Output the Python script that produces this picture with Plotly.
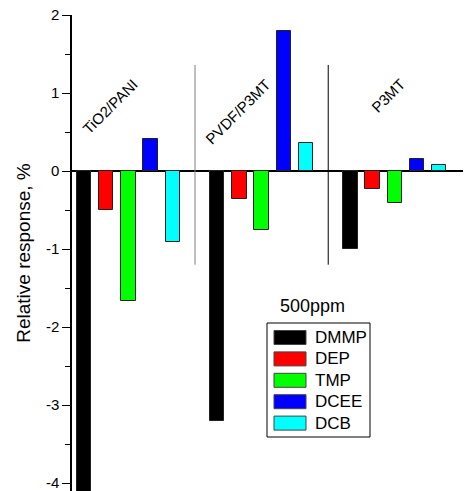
import plotly.graph_objects as go

# ---- data ----
groups = ["TiO2/PANI", "PVDF/P3MT", "P3MT"]
series = ["DMMP", "DEP", "TMP", "DCEE", "DCB"]
DMMP = [-4.15, -3.20, -1.00]
DEP = [-0.50, -0.36, -0.23]
TMP = [-1.66, -0.75, -0.41]
DCEE = [0.41, 1.80, 0.16]
DCB = [-0.91, 0.36, 0.08]
values = [DMMP, DEP, TMP, DCEE, DCB]
y_tickvals = [-4, -3, -2, -1, 0, 1, 2]
y_ticktext = ["-4", "-3", "-2", "-1", "0", "1", "2"]
legend_title = "500ppm"
y_title = "Relative response, %"

# ---- styles ----
colors = ["#000000", "#FF0000", "#00FF00", "#0000FF", "#00FFFF"]
FONT = "Arial, Liberation Sans, sans-serif"
group_step = 6  # bar slots per group (5 bars + gap)

W, H = 468, 491
ML, MR, MT, MB = 72, 5, 15, 0

fig = go.Figure()
for i, (name, vals) in enumerate(zip(series, values)):
    xs = [g * group_step + i for g in range(len(groups))]
    fig.add_trace(go.Bar(
        x=xs, y=vals, name=name, width=0.65,
        marker=dict(color=colors[i], line=dict(color="#222222", width=1)),
        showlegend=False,
    ))

# group separators
sep_colors = ["#808080", "#000000"]
for g in range(1, len(groups)):
    xsep = g * group_step - 1
    fig.add_shape(type="line", xref="x", yref="y", x0=xsep, x1=xsep,
                  y0=-1.2, y1=1.36, line=dict(color=sep_colors[g - 1], width=1))

# group labels (rotated)
label_offsets = [(1.17, 0.83), (0.94, 0.76), (1.70, 0.97)]
for g, name in enumerate(groups):
    dx, yy = label_offsets[g]
    fig.add_annotation(x=g * group_step + dx, y=yy, xref="x", yref="y",
                       text=name, showarrow=False, textangle=-45,
                       xanchor="center", yanchor="middle",
                       font=dict(family=FONT, size=15, color="black"))

# manual legend in pixel -> paper coordinates
pw = W - ML - MR
ph = H - MT - MB
def px(xp):
    return (xp - ML) / pw
def py(yp):
    return (H - MB - yp) / ph

fig.add_shape(type="rect", xref="paper", yref="paper",
              x0=px(267), x1=px(370), y0=py(437), y1=py(323),
              line=dict(color="black", width=1), fillcolor="white", layer="above")
row0, drow = 337.5, 21.4
for i, name in enumerate(series):
    yc = row0 + i * drow
    fig.add_shape(type="rect", xref="paper", yref="paper",
                  x0=px(274), x1=px(306), y0=py(yc + 7), y1=py(yc - 7),
                  line=dict(color="#444444", width=1), fillcolor=colors[i],
                  layer="above")
    fig.add_annotation(x=px(313), y=py(yc), xref="paper", yref="paper",
                       text=name, showarrow=False, xanchor="left",
                       yanchor="middle",
                       font=dict(family=FONT, size=17, color="black"))
fig.add_annotation(x=px(312), y=py(306), xref="paper", yref="paper",
                   text=legend_title, showarrow=False, xanchor="center",
                   yanchor="middle",
                   font=dict(family=FONT, size=18, color="black"))

fig.update_layout(
    width=W, height=H,
    margin=dict(l=ML, r=MR, t=MT, b=MB, pad=0),
    paper_bgcolor="white", plot_bgcolor="white",
    bargap=0,
    font=dict(family=FONT, color="black"),
    xaxis=dict(range=[-0.54, 17.07], showticklabels=False, showgrid=False,
               zeroline=False, showline=False, ticks=""),
    yaxis=dict(range=[-4.1, 2.0], tickvals=y_tickvals, ticktext=y_ticktext,
               showgrid=False, zeroline=True, zerolinecolor="black",
               zerolinewidth=1.5, showline=True, linecolor="black",
               linewidth=1.5, ticks="outside", ticklen=8, tickwidth=1.2,
               tickcolor="black", tickfont=dict(family=FONT, size=15),
               ticklabeloverflow="allow", layer="above traces",
               minor=dict(dtick=0.5, ticks="outside", ticklen=5,
                          tickwidth=1.2, tickcolor="black"),
               title=dict(text=y_title, font=dict(family=FONT, size=19),
                          standoff=10)),
)

fig.write_html("out.html")
